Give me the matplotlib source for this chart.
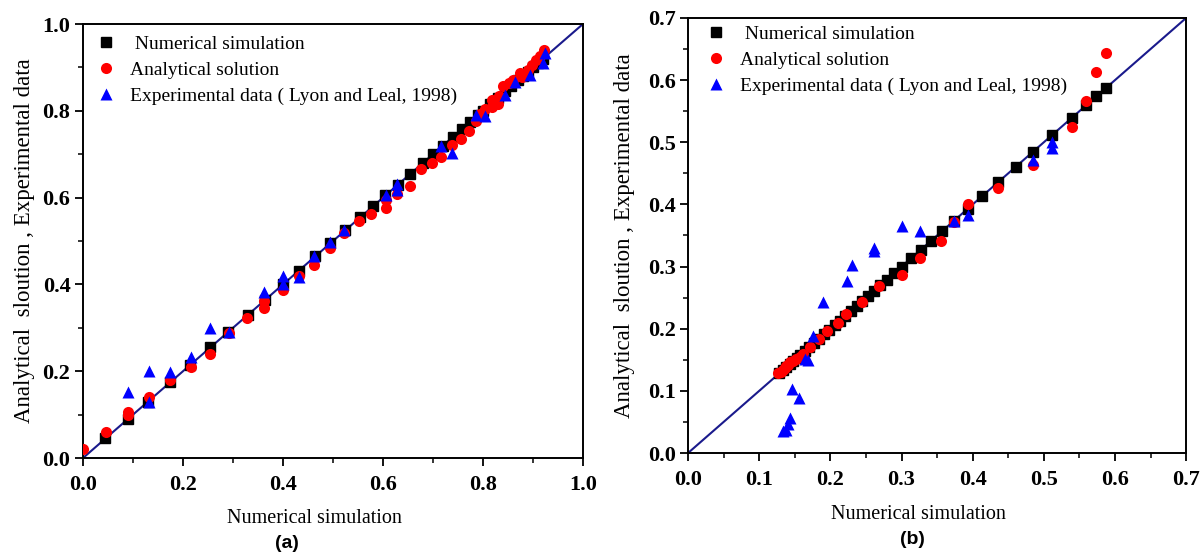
import numpy as np
import matplotlib
matplotlib.use("Agg")
import matplotlib.pyplot as plt
from matplotlib.ticker import MultipleLocator, FormatStrFormatter

# ── Panel (a) data ────────────────────────────────────────────────────────────
num_a = [0.045, 0.09, 0.13, 0.175, 0.215, 0.255, 0.29, 0.33, 0.365, 0.40, 0.432,
         0.465, 0.495, 0.525, 0.555, 0.58, 0.605, 0.63, 0.655, 0.68, 0.70, 0.72,
         0.74, 0.758, 0.775, 0.79, 0.80, 0.815, 0.83, 0.845, 0.857, 0.87, 0.88,
         0.89, 0.90, 0.91, 0.92]

ana_a_x = [0.0, 0.046, 0.09, 0.09, 0.132, 0.175, 0.216, 0.254, 0.293, 0.329, 0.363,
           0.363, 0.40, 0.433, 0.463, 0.494, 0.523, 0.552, 0.577, 0.606, 0.606, 0.629,
           0.654, 0.677, 0.698, 0.717, 0.739, 0.756, 0.773, 0.787, 0.794, 0.804,
           0.818, 0.818, 0.831, 0.832, 0.84, 0.852, 0.86, 0.875, 0.879, 0.89, 0.898,
           0.906, 0.914, 0.923]
ana_a_y = [0.02, 0.061, 0.106, 0.098, 0.14, 0.18, 0.21, 0.24, 0.288, 0.322, 0.346,
           0.362, 0.388, 0.42, 0.445, 0.484, 0.518, 0.545, 0.563, 0.577, 0.595, 0.608,
           0.627, 0.665, 0.679, 0.694, 0.722, 0.735, 0.753, 0.776, 0.792, 0.804,
           0.808, 0.824, 0.816, 0.833, 0.857, 0.865, 0.87, 0.886, 0.878, 0.894, 0.906,
           0.918, 0.927, 0.939]

exp_a_x = [0.09, 0.132, 0.132, 0.175, 0.216, 0.254, 0.293, 0.363, 0.40, 0.40, 0.433,
           0.463, 0.494, 0.523, 0.606, 0.629, 0.629, 0.717, 0.739, 0.787, 0.804,
           0.845, 0.864, 0.895, 0.921, 0.925]
exp_a_y = [0.151, 0.20, 0.13, 0.198, 0.233, 0.30, 0.29, 0.383, 0.42, 0.40, 0.418,
           0.465, 0.498, 0.526, 0.607, 0.632, 0.617, 0.72, 0.702, 0.79, 0.788,
           0.836, 0.866, 0.882, 0.91, 0.934]

# ── Panel (b) data ────────────────────────────────────────────────────────────
num_b = [0.128, 0.133, 0.138, 0.143, 0.148, 0.153, 0.158, 0.164, 0.170, 0.177,
         0.184, 0.191, 0.198, 0.206, 0.213, 0.221, 0.229, 0.237, 0.245, 0.253,
         0.261, 0.270, 0.279, 0.289, 0.300, 0.313, 0.327, 0.341, 0.357, 0.374,
         0.393, 0.413, 0.436, 0.461, 0.485, 0.512, 0.539, 0.560, 0.574, 0.587]

ana_b_x = [0.127, 0.130, 0.133, 0.136, 0.138, 0.141, 0.143, 0.147, 0.152, 0.157,
           0.162, 0.171, 0.184, 0.195, 0.211, 0.222, 0.244, 0.268, 0.30, 0.326,
           0.356, 0.374, 0.393, 0.436, 0.485, 0.539, 0.559, 0.574, 0.587]
ana_b_y = [0.129, 0.131, 0.134, 0.137, 0.140, 0.142, 0.146, 0.148, 0.151, 0.155,
           0.160, 0.171, 0.183, 0.197, 0.209, 0.223, 0.243, 0.269, 0.287, 0.314,
           0.341, 0.371, 0.40, 0.426, 0.463, 0.524, 0.566, 0.613, 0.643]

exp_b_x = [0.134, 0.138, 0.141, 0.143, 0.146, 0.156, 0.165, 0.168, 0.176, 0.19,
           0.224, 0.23, 0.261, 0.261, 0.30, 0.326, 0.374, 0.394, 0.485, 0.512, 0.512]
exp_b_y = [0.036, 0.037, 0.046, 0.057, 0.103, 0.089, 0.151, 0.149, 0.189, 0.243,
           0.277, 0.303, 0.33, 0.325, 0.366, 0.357, 0.374, 0.383, 0.471, 0.50, 0.491]

SERIF = ["Liberation Serif", "DejaVu Serif"]
LINE_COLOR = "#1a1a8c"


def draw_panel(ax, num, ana_x, ana_y, exp_x, exp_y, lim, major, minor,
               ylab_x, xlab_y, leg_anchor):
    ax.plot([0, lim], [0, lim], color=LINE_COLOR, lw=1.5, zorder=1)
    ax.plot(num, num, "s", color="black", ms=7, ls="none",
            label=" Numerical simulation", zorder=2)
    ax.plot(ana_x, ana_y, "o", color="red", ms=8, ls="none", mec="none",
            label="Analytical solution", zorder=3)
    ax.plot(exp_x, exp_y, "^", color="blue", ms=9, ls="none", mec="none",
            label="Experimental data ( Lyon and Leal, 1998)", zorder=4)

    ax.set_xlim(0, lim)
    ax.set_ylim(0, lim)
    for axis in (ax.xaxis, ax.yaxis):
        axis.set_major_locator(MultipleLocator(major))
        axis.set_minor_locator(MultipleLocator(minor))
        axis.set_major_formatter(FormatStrFormatter("%.1f"))
    ax.tick_params(which="major", direction="out", length=6, width=1.3)
    ax.tick_params(which="minor", direction="out", length=3.5, width=1.1)
    ax.tick_params(axis="x", which="major", pad=6)
    ax.tick_params(axis="y", which="major", pad=3)
    ax.tick_params(labelsize=16)
    for lab in ax.get_xticklabels() + ax.get_yticklabels():
        lab.set_fontweight("bold")
        lab.set_family(SERIF)
    for sp in ax.spines.values():
        sp.set_linewidth(1.4)

    ax.set_xlabel("Numerical simulation", fontsize=14.5, family=SERIF)
    ax.xaxis.set_label_coords(0.463, xlab_y)
    ax.set_ylabel("Analytical  sloution , Experimental data", fontsize=16.5,
                  family=SERIF, va="center")
    ax.yaxis.set_label_coords(ylab_x, 0.5)
    ax.legend(loc="upper left", bbox_to_anchor=leg_anchor, frameon=False,
              prop={"family": SERIF, "size": 14},
              handletextpad=0.6, borderaxespad=0.2, labelspacing=0.42,
              handlelength=1.2)


fig = plt.figure(figsize=(12.01, 5.57), dpi=100)
ax1 = fig.add_axes([0.0691, 0.1777, 0.4163, 0.7792])
ax2 = fig.add_axes([0.5729, 0.1867, 0.4147, 0.7810])

draw_panel(ax1, num_a, ana_a_x, ana_a_y, exp_a_x, exp_a_y, 1.0, 0.2, 0.1,
           -0.116, -0.118, (0.0, 1.0))
draw_panel(ax2, num_b, ana_b_x, ana_b_y, exp_b_x, exp_b_y, 0.7, 0.1, 0.05,
           -0.127, -0.12, (0.01, 1.01))

fig.text(287 / 1201, 1 - 543 / 557, "(a)", ha="center", va="center",
         fontsize=14, fontweight="bold", family="Liberation Sans")
fig.text(912 / 1201, 1 - 539 / 557, "(b)", ha="center", va="center",
         fontsize=14, fontweight="bold", family="Liberation Sans")

fig.savefig("out.png", dpi=100, facecolor="white")
